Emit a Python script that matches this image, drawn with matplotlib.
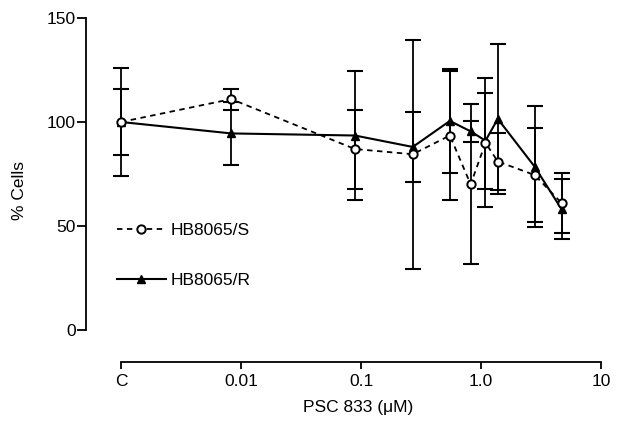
import matplotlib.pyplot as plt
import numpy as np

plt.rcParams["font.family"] = ["Liberation Sans", "DejaVu Sans"]

# concentration (uM); "C" = control drawn at 0.001
conc = [0.001, 0.0083, 0.089, 0.27, 0.55, 0.82, 1.09, 1.38, 2.8, 4.7]
tick_pos = [0.001, 0.01, 0.1, 1, 10]
tick_labels = ["C", "0.01", "0.1", "1.0", "10"]

s_mean = [100, 111, 87, 84.5, 93.5, 70, 90, 81, 74.5, 61]
s_err = [16, 5, 19, 55, 31, 38.5, 31, 13.5, 22.5, 14.5]
r_mean = [100, 94.5, 93.5, 88, 100.5, 95.5, 91, 101.5, 78.5, 58]
r_err = [26, 15, 31, 17, 25, 5, 23, 36, 29, 14.5]

fig = plt.figure(figsize=(6.22, 4.22), dpi=100)
ax = fig.add_axes([86 / 622, 60 / 422, 519 / 622, 344 / 422])

# error bars
ax.errorbar(conc, r_mean, yerr=r_err, fmt="none", ecolor="black",
            elinewidth=1.3, capsize=6, capthick=1.5, zorder=2)
ax.errorbar(conc, s_mean, yerr=s_err, fmt="none", ecolor="black",
            elinewidth=1.3, capsize=6, capthick=1.5, zorder=2)

# lines
ax.plot(conc, r_mean, color="black", lw=1.5, marker="^", ms=5.5,
        mfc="black", mec="black", label="HB8065/R", zorder=3)
ax.plot(conc, s_mean, color="black", lw=1.3, ls=(0, (3, 2.5)), marker="o",
        ms=6, mfc="white", mec="black", mew=1.4, label="HB8065/S", zorder=4)

ax.set_xscale("log")
ax.set_xlim(10 ** -3.2917, 10 ** 1.0333)
ax.set_ylim(-15.4, 150)

ax.spines["top"].set_visible(False)
ax.spines["right"].set_visible(False)
ax.spines["left"].set_bounds(0, 150)
ax.spines["bottom"].set_bounds(0.001, 10)
ax.spines["left"].set_linewidth(1.3)
ax.spines["bottom"].set_linewidth(1.3)

ax.set_xticks(tick_pos)
ax.set_xticklabels(tick_labels)
ax.xaxis.set_minor_locator(plt.NullLocator())
ax.set_yticks([0, 50, 100, 150])
ax.tick_params(axis="both", direction="out", width=1.3, labelsize=12.5)
ax.tick_params(axis="y", length=6.5, pad=1)
ax.tick_params(axis="x", length=5, pad=4)

ax.set_xlabel("PSC 833 (μM)", fontsize=12.5)
ax.xaxis.set_label_coords(0.524, -0.11)
ax.set_ylabel("% Cells", fontsize=12.5)
ax.yaxis.set_label_coords(-0.114, 0.5)

handles, labels = ax.get_legend_handles_labels()
ax.legend(handles[::-1], labels[::-1], loc="center left",
          bbox_to_anchor=(0.06, 0.31), frameon=False, fontsize=12.5,
          handlelength=2.8, handletextpad=0.3, labelspacing=2.0,
          borderpad=0, borderaxespad=0)

plt.savefig("out.png", dpi=100)
plt.close()
